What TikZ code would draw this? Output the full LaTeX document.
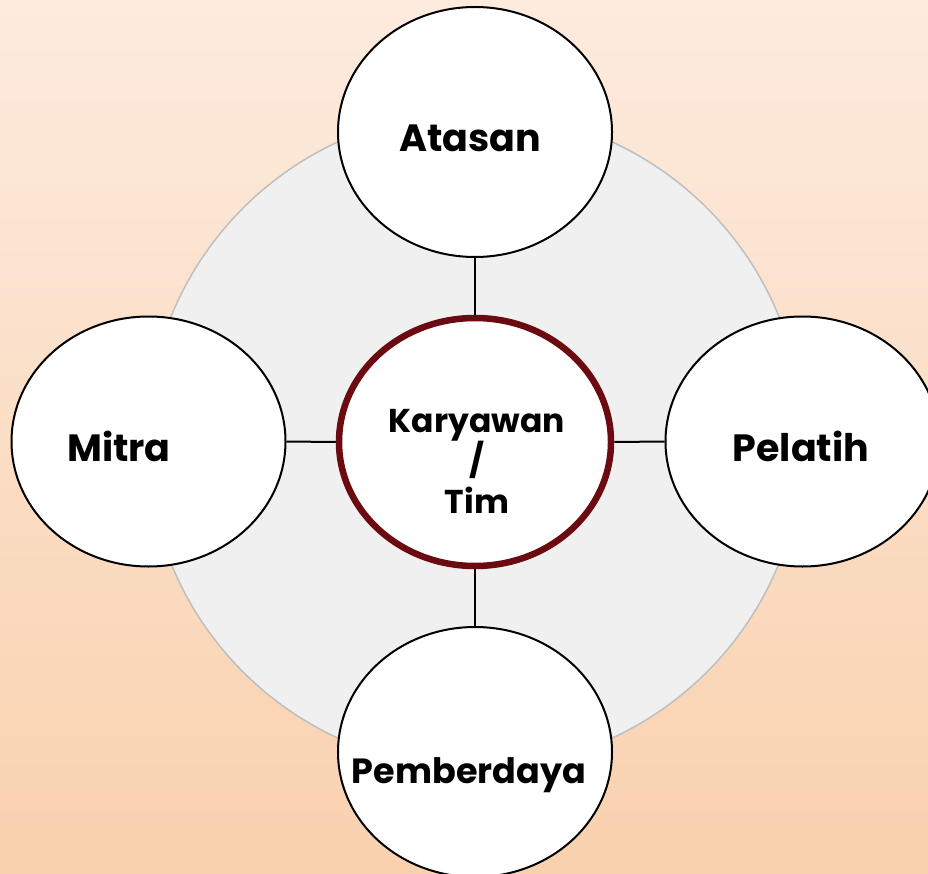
\documentclass[tikz,border=0pt]{standalone}
\usepackage{fontspec}
\setmainfont{Poppins}
\usetikzlibrary{shapes.geometric}
\definecolor{bgtop}{HTML}{FDEBDE}
\definecolor{bgbot}{HTML}{F9D1AE}
\definecolor{ringfill}{HTML}{F0F0F0}
\definecolor{ringline}{HTML}{BFBFBF}
\definecolor{corered}{HTML}{6B0A10}
\tikzset{
  outer/.style={ellipse, draw=black, line width=2pt, fill=white,
    minimum width=274pt, minimum height=250pt, inner sep=0pt},
  core/.style={ellipse, draw=corered, line width=6.5pt, fill=white,
    minimum width=272pt, minimum height=248pt, inner sep=0pt},
  lbl/.style={font=\bfseries\fontsize{38}{40}\selectfont, inner sep=0pt, anchor=base},
  corelbl/.style={font=\bfseries\fontsize{33}{40.5}\selectfont, inner sep=0pt, align=center},
  link/.style={draw=black, line width=2pt}
}
\begin{document}
\begin{tikzpicture}[x=1pt,y=-1pt]
\useasboundingbox (0,0) rectangle (928,874);
\shade[top color=bgtop, bottom color=bgbot] (0,0) rectangle (928,874);
\node[circle, draw=ringline, line width=1.5pt, fill=ringfill, minimum size=656pt, inner sep=0pt] (ring) at (475,440) {};
\node[core] (core) at (475,442) {};
\node[outer] (atasan) at (475,132) {};
\node[outer] (mitra) at (148.5,441.5) {};
\node[outer] (pelatih) at (802.5,441.5) {};
\node[outer] (pemb) at (475,752) {};
\draw[link] (atasan.south) -- (core.north);
\draw[link] (mitra.east) -- (core.west);
\draw[link] (core.east) -- (pelatih.west);
\draw[link] (core.south) -- (pemb.north);
\node[lbl] (tatasan) at (470,152) {Atasan};
\node[lbl] (tmitra) at (119,461) {Mitra};
\node[lbl] (tpelatih) at (801,461) {Pelatih};
\node[lbl, font=\bfseries\fontsize{35}{40}\selectfont] (tpemb) at (469,783) {Pemberdaya};
\node[corelbl] (tcore) at (477,461) {Karyawan\\/\\Tim};
\end{tikzpicture}
\end{document}
